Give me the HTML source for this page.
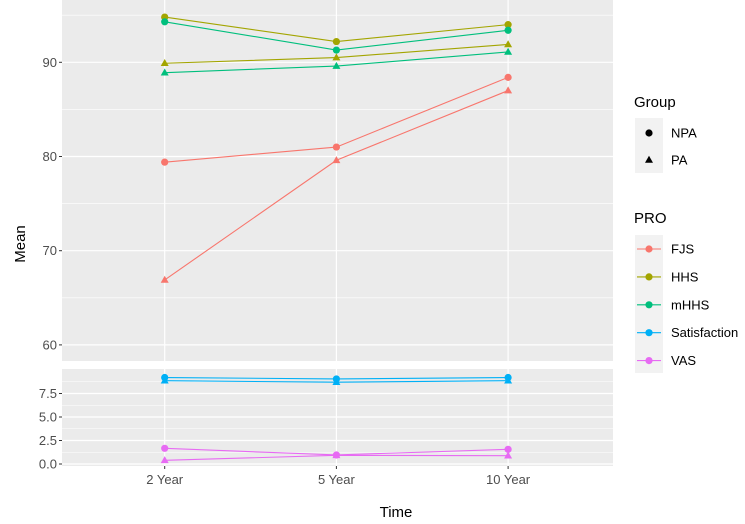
<!DOCTYPE html>
<html><head><meta charset="utf-8"><style>
body{margin:0;background:#fff;}
svg text{font-family:"Liberation Sans",Arial,sans-serif;}
</style></head><body>
<svg id="c" width="745" height="519" xmlns="http://www.w3.org/2000/svg">
<rect width="745" height="519" fill="#fff"/>
<g id="panels"></g>
<g id="marks"></g>
<text x="25" y="244" font-size="15" transform="rotate(-90 25 244)" text-anchor="middle" fill="#000">Mean</text>
<text x="396" y="517" font-size="15" text-anchor="middle" fill="#000">Time</text>
<g id="legend"></g>
</svg>
<script>
const times = ["2 Year","5 Year","10 Year"];
const pros = ["FJS","HHS","mHHS","Satisfaction","VAS"];
const colors = ["#F8766D","#A3A500","#00BF7D","#00B0F6","#E76BF3"];
const groups = ["NPA","PA"];
const fjsNPA = [79.4, 81.0, 88.4];
const fjsPA = [66.9, 79.6, 87.0];
const hhsNPA = [94.8, 92.2, 94.0];
const hhsPA = [89.9, 90.5, 91.9];
const mhhsNPA = [94.3, 91.3, 93.4];
const mhhsPA = [88.9, 89.6, 91.1];
const satNPA = [9.2, 9.05, 9.2];
const satPA = [8.86, 8.7, 8.86];
const vasNPA = [1.67, 0.96, 1.56];
const vasPA = [0.39, 0.92, 0.88];
const topTicks = [60,70,80,90];
const botTicks = [0,2.5,5,7.5];
const botTickLabels = ["0.0","2.5","5.0","7.5"];

const NS="http://www.w3.org/2000/svg";
function mk(tag,attrs,parent){const e=document.createElementNS(NS,tag);for(const k in attrs)e.setAttribute(k,attrs[k]);parent.appendChild(e);return e;}
const PL=62, PR=613;
const xs = i => 164.7 + i*171.7;
const yTop = v => 62.3 + (90 - v)*9.42;
const yBot = v => 464 - v*9.4;
const panels=document.getElementById('panels');
const marks=document.getElementById('marks');

function panel(top,bottom,ticks,labels,yf,minor,name){
  const r=mk('rect',{x:PL,y:top,width:PR-PL,height:bottom-top,fill:'#EBEBEB'},panels);
  
  
  minor.forEach(v=>{const y=yf(v);if(y>top&&y<bottom)mk('line',{x1:PL,x2:PR,y1:y,y2:y,stroke:'#fff','stroke-width':0.6},panels);});
  ticks.forEach((v,i)=>{const y=yf(v);
    mk('line',{x1:PL,x2:PR,y1:y,y2:y,stroke:'#fff','stroke-width':1.2},panels);
    mk('line',{x1:PL-3,x2:PL,y1:y,y2:y,stroke:'#333','stroke-width':1},panels);
    const t=mk('text',{x:PL-5,y:y+4.5,'font-size':13,'text-anchor':'end',fill:'#4D4D4D'},panels);
    t.textContent=labels[i];
    
    
  });
  times.forEach((s,i)=>mk('line',{x1:xs(i),x2:xs(i),y1:top,y2:bottom,stroke:'#fff','stroke-width':1.2},panels));
}
panel(0,361,topTicks,topTicks.map(String),yTop,[65,75,85,95],'top-panel');
panel(369,466,botTicks,botTickLabels,yBot,[1.25,3.75,6.25,8.75],'bottom-panel');
times.forEach((s,i)=>{
  mk('line',{x1:xs(i),x2:xs(i),y1:466,y2:469,stroke:'#333'},panels);
  const t=mk('text',{x:xs(i),y:484,'font-size':13,'text-anchor':'middle',fill:'#4D4D4D'},panels);
  t.textContent=s;
  
  
});

function shape(g,x,y,col,parent){
  if(g===0) return mk('circle',{cx:x,cy:y,r:3.6,fill:col},parent);
  return mk('polygon',{points:`${x},${y-4.2} ${x-4},${y+2.8} ${x+4},${y+2.8}`,fill:col},parent);
}
function series(vals,ci,g,yf,name){
  const grp=mk('g',{},marks);
  
  
  mk('polyline',{points:vals.map((v,i)=>xs(i)+','+yf(v)).join(' '),fill:'none',stroke:colors[ci],'stroke-width':1.1},grp);
  vals.forEach((v,i)=>{const p=shape(g,xs(i),yf(v),colors[ci],grp);
    
    });
}
series(fjsNPA,0,0,yTop,'fjs-npa-line');
series(fjsPA,0,1,yTop,'fjs-pa-line');
series(hhsNPA,1,0,yTop,'hhs-npa-line');
series(hhsPA,1,1,yTop,'hhs-pa-line');
series(mhhsNPA,2,0,yTop,'mhhs-npa-line');
series(mhhsPA,2,1,yTop,'mhhs-pa-line');
series(satNPA,3,0,yBot,'satisfaction-npa-line');
series(satPA,3,1,yBot,'satisfaction-pa-line');
series(vasNPA,4,0,yBot,'vas-npa-line');
series(vasPA,4,1,yBot,'vas-pa-line');

const lg=document.getElementById('legend');
let t=mk('text',{x:634,y:107,'font-size':15,fill:'#000'},lg);t.textContent='Group';


mk('rect',{x:635,y:118,width:28,height:55,fill:'#F2F2F2'},lg);
groups.forEach((gname,i)=>{
  const cy=i===0?133:160;
  const e=mk('g',{},lg);
  
  
  shape(i,649,cy,'#000',e);
  const tt=mk('text',{x:671,y:cy+4.5,'font-size':13,fill:'#000'},e);tt.textContent=gname;
});
t=mk('text',{x:634,y:223,'font-size':15,fill:'#000'},lg);t.textContent='PRO';


mk('rect',{x:635,y:235,width:28,height:138,fill:'#F2F2F2'},lg);
pros.forEach((p,i)=>{const cy=249+i*27.9;
  const e=mk('g',{},lg);
  
  
  mk('line',{x1:637,x2:661,y1:cy,y2:cy,stroke:colors[i],'stroke-width':1.1},e);
  mk('circle',{cx:649,cy:cy,r:3.6,fill:colors[i]},e);
  const tt=mk('text',{x:671,y:cy+4.5,'font-size':13,fill:'#000'},e);tt.textContent=p;
});
</script>
</body></html>
